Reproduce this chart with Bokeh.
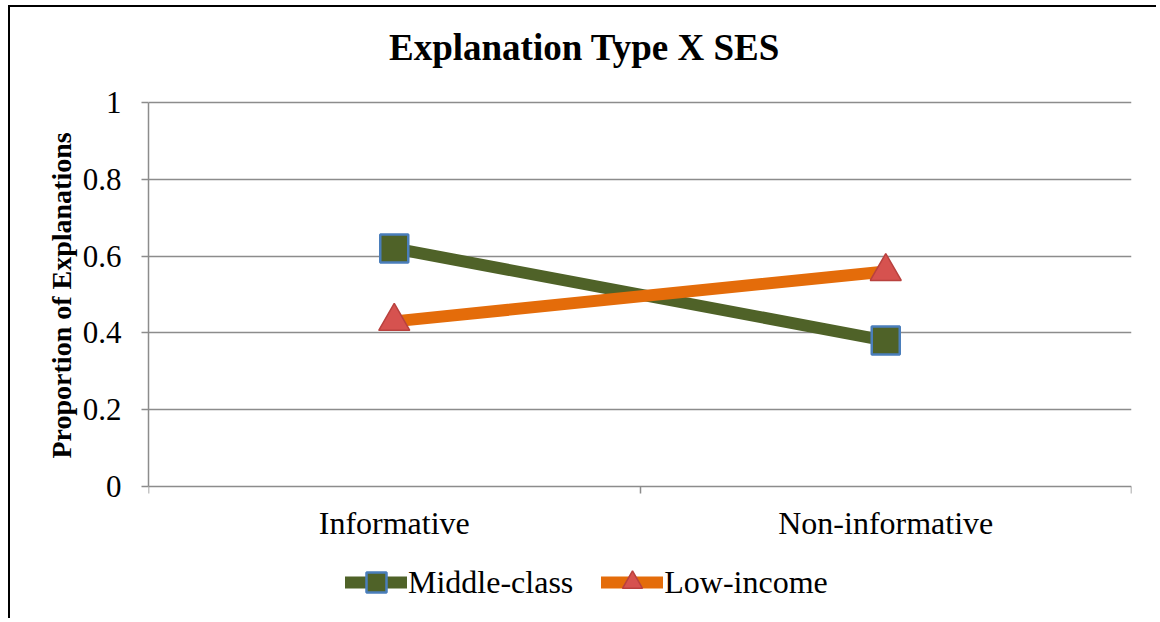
from bokeh.plotting import figure
from bokeh.models import Range1d, FixedTicker, Legend, LegendItem, Label, Title
from bokeh.embed import file_html
from bokeh.resources import INLINE

categories = ["Informative", "Non-informative"]
middle_class = [0.62, 0.38]
low_income = [0.43, 0.56]
y_ticks = [0, 0.2, 0.4, 0.6, 0.8, 1]
y_tick_labels = ["0", "0.2", "0.4", "0.6", "0.8", "1"]

chart_title = "Explanation Type X SES"
y_title = "Proportion of Explanations"

xs = [i + 0.5 for i in range(len(categories))]

FONT = "Liberation Serif"

W, H = 1148, 613
TOP = 95            # frame pixels above the value 1
PX_PER_UNIT = 384   # pixels per unit of proportion
y_end = 1 + TOP / PX_PER_UNIT
y_start = y_end - H / PX_PER_UNIT

p = figure(width=W, height=H, output_backend="svg", toolbar_location=None,
           x_range=Range1d(0, len(categories)), y_range=Range1d(y_start, y_end),
           min_border_left=138, min_border_right=27, min_border_top=0, min_border_bottom=0)

p.styles = {"border-left": "2px solid black", "border-top": "2px solid black",
            "margin-left": "8px", "margin-top": "5px"}

p.outline_line_color = None
p.xgrid.grid_line_color = None
p.ygrid.grid_line_color = "#8c8c8c"
p.ygrid.grid_line_width = 1.5
p.ygrid.ticker = FixedTicker(ticks=y_ticks[1:])

# chart title
p.add_layout(Label(x=436, y=573, x_units="screen", y_units="screen", text=chart_title,
                   text_align="center", text_baseline="alphabetic",
                   text_font=FONT, text_font_size="37px", text_font_style="bold",
                   text_color="black"))

# x axis (drawn at y = 0)
p.xaxis.fixed_location = 0
p.xaxis.ticker = FixedTicker(ticks=xs, minor_ticks=list(range(len(categories) + 1)))
p.xaxis.major_label_overrides = {x: c for x, c in zip(xs, categories)}
p.xaxis.major_tick_out = 0
p.xaxis.major_tick_in = 0
p.xaxis.minor_tick_out = 7
p.xaxis.minor_tick_in = 0
p.xaxis.minor_tick_line_color = "#8c8c8c"
p.xaxis.minor_tick_line_width = 1.5
p.xaxis.axis_line_color = "#8c8c8c"
p.xaxis.axis_line_width = 1.5
p.xaxis.major_label_text_font = FONT
p.xaxis.major_label_text_font_size = "32px"
p.xaxis.major_label_text_color = "black"
p.xaxis.major_label_standoff = 11

# y axis
p.yaxis.bounds = (0, 1)
p.yaxis.ticker = FixedTicker(ticks=y_ticks, minor_ticks=[])
p.yaxis.major_label_overrides = {t: l for t, l in zip(y_ticks, y_tick_labels)}
p.yaxis.major_tick_out = 7
p.yaxis.major_tick_in = 0
p.yaxis.major_tick_line_color = "#8c8c8c"
p.yaxis.major_tick_line_width = 1.5
p.yaxis.axis_line_color = "#8c8c8c"
p.yaxis.axis_line_width = 1.5
p.yaxis.major_label_text_font = FONT
p.yaxis.major_label_text_font_size = "31px"
p.yaxis.major_label_text_color = "black"
p.yaxis.major_label_standoff = 20

# y axis title, positioned along the 0..1 span
p.add_layout(Title(text=y_title, align="left", offset=162, standoff=6,
                   vertical_align="bottom",
                   text_font=FONT, text_font_size="28px", text_font_style="bold",
                   text_color="black"), "left")

olive = "#4F6228"
orange = "#E46C0A"

l1 = p.line(xs, middle_class, line_color=olive, line_width=12, line_cap="round")
m1 = p.scatter(xs, middle_class, marker="square", size=28, fill_color=olive,
               line_color="#4A7EBB", line_width=2.5)
l2 = p.line(xs, low_income, line_color=orange, line_width=12, line_cap="round")
m2 = p.scatter(xs, low_income, marker="triangle", size=31, fill_color="#D6524F",
               line_color="#B9413E", line_width=1.5)

legend = Legend(items=[LegendItem(label="Middle-class", renderers=[l1, m1]),
                       LegendItem(label="Low-income", renderers=[l2, m2])],
                orientation="horizontal", location=(197, 13),
                glyph_width=62, glyph_height=50, label_standoff=1, spacing=28,
                label_text_font=FONT, label_text_font_size="32px",
                label_text_color="black",
                border_line_color=None, background_fill_alpha=0,
                padding=0, margin=0)
p.add_layout(legend)

open("out.html", "w").write(file_html(p, INLINE))
